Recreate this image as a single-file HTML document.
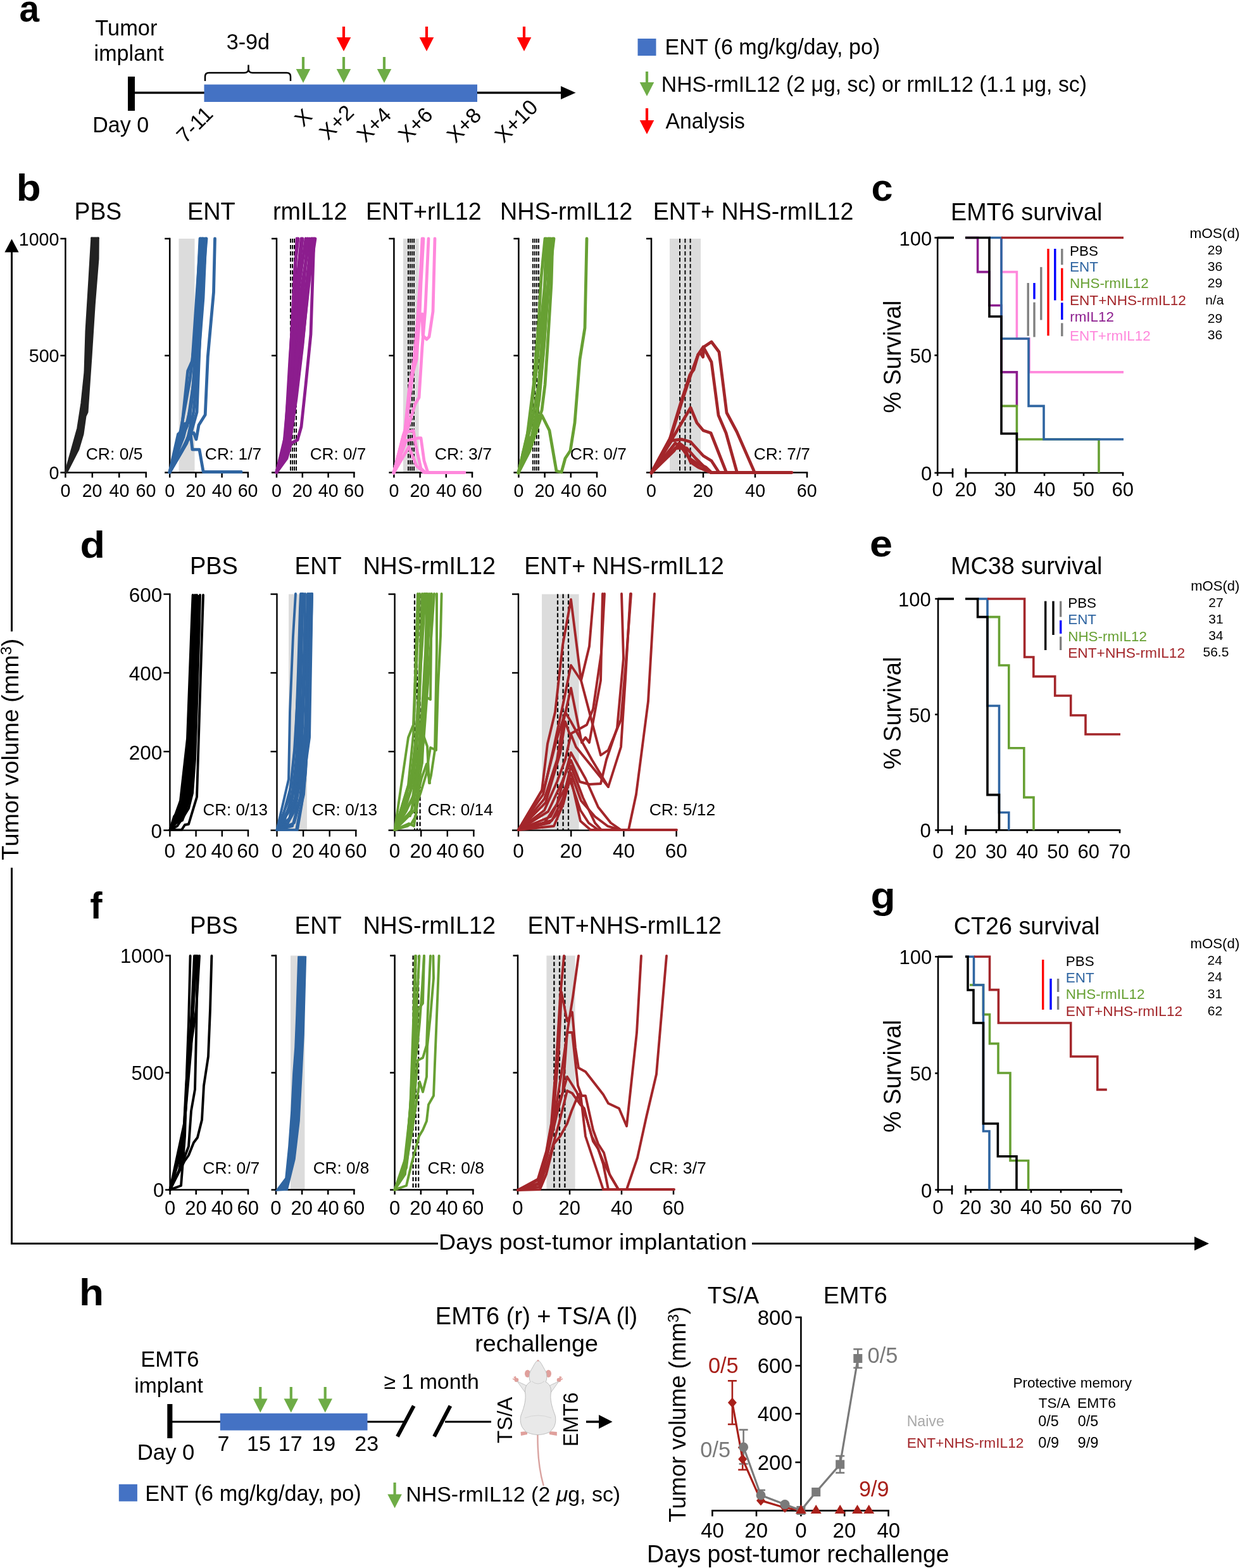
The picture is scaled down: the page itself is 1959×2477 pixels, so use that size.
<!DOCTYPE html>
<html><head><meta charset="utf-8"><title>Figure</title>
<style>html,body{margin:0;padding:0;background:#fff;overflow:hidden;width:1959px;height:2477px}svg{display:block}</style></head>
<body><svg width="1959" height="2477" viewBox="0 0 1959 2477" font-family="'Liberation Sans', Arial, Helvetica, sans-serif">
<rect width="1959" height="2477" fill="#fff"/>
<text x="30.5" y="34.2" font-size="60" textLength="31.58" lengthAdjust="spacingAndGlyphs" font-weight="bold">a</text>
<text x="150.31" y="56.2" font-size="35" textLength="98.1" lengthAdjust="spacingAndGlyphs">Tumor</text>
<text x="148.61" y="96" font-size="35" textLength="110.01" lengthAdjust="spacingAndGlyphs">implant</text>
<text x="357.63" y="77.5" font-size="35" textLength="68.46" lengthAdjust="spacingAndGlyphs">3-9d</text>
<text x="146.28" y="209" font-size="35" textLength="88.81" lengthAdjust="spacingAndGlyphs">Day 0</text>
<line x1="207" y1="146.5" x2="889" y2="146.5" stroke="#000" stroke-width="3.5"/>
<polygon points="886,136 909.5,146.5 886,157" fill="#000"/>
<rect x="202" y="121" width="11" height="54" fill="#000"/>
<rect x="322.5" y="133.5" width="431.5" height="27.5" fill="#4472C4"/>
<path d="M324,128 L324,121 Q324,115 330,115 L386,115 Q392.5,115 392.5,109 L392.5,102.5 M392.5,109 Q392.5,115 399,115 L453,115 Q459,115 459,121 L459,128" fill="none" stroke="#000" stroke-width="2.5"/>
<line x1="479" y1="90" x2="479" y2="110" stroke="#6EAC46" stroke-width="4.2"/>
<polygon points="467.7,109 490.3,109 479,131" fill="#6EAC46"/>
<line x1="543" y1="90" x2="543" y2="110" stroke="#6EAC46" stroke-width="4.2"/>
<polygon points="531.7,109 554.3,109 543,131" fill="#6EAC46"/>
<line x1="607" y1="90" x2="607" y2="110" stroke="#6EAC46" stroke-width="4.2"/>
<polygon points="595.7,109 618.3,109 607,131" fill="#6EAC46"/>
<line x1="543" y1="42" x2="543" y2="60" stroke="#FF0000" stroke-width="4.2"/>
<polygon points="531.7,59 554.3,59 543,81" fill="#FF0000"/>
<line x1="674" y1="42" x2="674" y2="60" stroke="#FF0000" stroke-width="4.2"/>
<polygon points="662.7,59 685.3,59 674,81" fill="#FF0000"/>
<line x1="828" y1="42" x2="828" y2="60" stroke="#FF0000" stroke-width="4.2"/>
<polygon points="816.7,59 839.3,59 828,81" fill="#FF0000"/>
<text x="0" y="0" font-size="33.5" text-anchor="middle" dominant-baseline="central" transform="translate(307.5,196.8) rotate(-45)">7-11</text>
<text x="0" y="0" font-size="33.5" text-anchor="middle" dominant-baseline="central" transform="translate(479,185.6) rotate(-45)">X</text>
<text x="0" y="0" font-size="33.5" text-anchor="middle" dominant-baseline="central" transform="translate(531.6,193.1) rotate(-45)">X+2</text>
<text x="0" y="0" font-size="33.5" text-anchor="middle" dominant-baseline="central" transform="translate(590.7,196.9) rotate(-45)">X+4</text>
<text x="0" y="0" font-size="33.5" text-anchor="middle" dominant-baseline="central" transform="translate(656.2,196.9) rotate(-45)">X+6</text>
<text x="0" y="0" font-size="33.5" text-anchor="middle" dominant-baseline="central" transform="translate(733,197.7) rotate(-45)">X+8</text>
<text x="0" y="0" font-size="33.5" text-anchor="middle" dominant-baseline="central" transform="translate(815.5,191.2) rotate(-45)">X+10</text>
<rect x="1007.5" y="61" width="29" height="27" fill="#4472C4"/>
<text x="1050.57" y="85.8" font-size="34.7" textLength="339.68" lengthAdjust="spacingAndGlyphs">ENT (6 mg/kg/day, po)</text>
<line x1="1022" y1="113" x2="1022" y2="131" stroke="#6EAC46" stroke-width="4.2"/>
<polygon points="1010.7,130 1033.3,130 1022,152" fill="#6EAC46"/>
<text x="1044.79" y="145" font-size="34.7" textLength="672.18" lengthAdjust="spacingAndGlyphs">NHS-rmIL12 (2 μg, sc) or rmIL12 (1.1 μg, sc)</text>
<line x1="1022" y1="171" x2="1022" y2="191" stroke="#FF0000" stroke-width="4.2"/>
<polygon points="1010.7,190 1033.3,190 1022,212" fill="#FF0000"/>
<text x="1051.5" y="203" font-size="34.7" textLength="125.47" lengthAdjust="spacingAndGlyphs">Analysis</text>
<line x1="18.5" y1="396" x2="18.5" y2="997.6" stroke="#000" stroke-width="3"/>
<line x1="18.5" y1="1370.7" x2="18.5" y2="1966" stroke="#000" stroke-width="3"/>
<polygon points="7.4,398.5 18.5,377.4 29.6,398.5" fill="#000"/>
<line x1="17" y1="1964.5" x2="692" y2="1964.5" stroke="#000" stroke-width="3"/>
<line x1="1188" y1="1964.5" x2="1889" y2="1964.5" stroke="#000" stroke-width="3"/>
<polygon points="1887,1953.5 1910,1964.5 1887,1975.5" fill="#000"/>
<text x="693" y="1974.4" font-size="35.5" textLength="487.01" lengthAdjust="spacingAndGlyphs">Days post-tumor implantation</text>
<text x="0" y="0" font-size="37" transform="translate(29.3,1358.7) rotate(-90)" textLength="350" lengthAdjust="spacingAndGlyphs">Tumor volume (mm<tspan font-size="24" dy="-11.5">3</tspan><tspan dy="11.5">)</tspan></text>
<text x="25.75" y="316.5" font-size="60" textLength="38.85" lengthAdjust="spacingAndGlyphs" font-weight="bold">b</text>
<text x="117.62" y="346.6" font-size="38.5" textLength="74.59" lengthAdjust="spacingAndGlyphs">PBS</text>
<text x="295.97" y="346.6" font-size="38.5" textLength="75.79" lengthAdjust="spacingAndGlyphs">ENT</text>
<text x="430.95" y="346.6" font-size="38.5" textLength="117.63" lengthAdjust="spacingAndGlyphs">rmIL12</text>
<text x="578" y="346.6" font-size="38.5" textLength="182.62" lengthAdjust="spacingAndGlyphs">ENT+rIL12</text>
<text x="789.99" y="346.6" font-size="38.5" textLength="209.26" lengthAdjust="spacingAndGlyphs">NHS-rmIL12</text>
<text x="1031.79" y="346.6" font-size="38.5" textLength="316.62" lengthAdjust="spacingAndGlyphs">ENT+ NHS-rmIL12</text>
<line x1="103.4" y1="375.75" x2="103.4" y2="747.75" stroke="#000" stroke-width="2.5"/>
<line x1="95.4" y1="377" x2="103.4" y2="377" stroke="#000" stroke-width="2.5"/>
<line x1="95.4" y1="561.75" x2="103.4" y2="561.75" stroke="#000" stroke-width="2.5"/>
<line x1="95.4" y1="746.5" x2="103.4" y2="746.5" stroke="#000" stroke-width="2.5"/>
<line x1="102.15" y1="746.5" x2="231.95" y2="746.5" stroke="#000" stroke-width="2.5"/>
<line x1="103.4" y1="746.5" x2="103.4" y2="754.5" stroke="#000" stroke-width="2.5"/>
<text x="95.39" y="784.8" font-size="29.8" textLength="15.91" lengthAdjust="spacingAndGlyphs">0</text>
<line x1="145.83" y1="746.5" x2="145.83" y2="754.5" stroke="#000" stroke-width="2.5"/>
<text x="129.67" y="784.8" font-size="29.8" textLength="31.82" lengthAdjust="spacingAndGlyphs">20</text>
<line x1="188.27" y1="746.5" x2="188.27" y2="754.5" stroke="#000" stroke-width="2.5"/>
<text x="172.53" y="784.8" font-size="29.8" textLength="31.82" lengthAdjust="spacingAndGlyphs">40</text>
<line x1="230.7" y1="746.5" x2="230.7" y2="754.5" stroke="#000" stroke-width="2.5"/>
<text x="214.54" y="784.8" font-size="29.8" textLength="31.82" lengthAdjust="spacingAndGlyphs">60</text>
<text x="29.75" y="387.5" font-size="29.8" textLength="63.63" lengthAdjust="spacingAndGlyphs">1000</text>
<text x="45.77" y="572.25" font-size="29.8" textLength="47.73" lengthAdjust="spacingAndGlyphs">500</text>
<text x="77.52" y="757" font-size="29.8" textLength="15.91" lengthAdjust="spacingAndGlyphs">0</text>
<polygon points="103.4,746 122.8,676.6 128.9,637 134,588 136,523 141,441.4 144.8,376 155.3,376 155,408.9 149.2,482 144,563.6 138,651 135,657.3 131,685.8 123.8,710 105.5,746" fill="#222"/>
<polyline points="103.4,746 122.8,676.6 128.9,637 134,588 136,523 141,441.4 144.8,376" fill="none" stroke="#222" stroke-width="3" stroke-linejoin="round" stroke-linecap="round"/>
<polyline points="155.3,376 155,408.9 149.2,482 144,563.6 138,651 135,657.3 131,685.8 123.8,710 105.5,746" fill="none" stroke="#222" stroke-width="3" stroke-linejoin="round" stroke-linecap="round"/>
<polyline points="144.8,376 155.3,376" fill="none" stroke="#222" stroke-width="3" stroke-linejoin="round" stroke-linecap="round"/>
<text x="135.67" y="726" font-size="26" textLength="89.99" lengthAdjust="spacingAndGlyphs">CR: 0/5</text>
<rect x="282.5" y="377" width="25" height="369.5" fill="#DCDCDC"/>
<line x1="268.2" y1="375.75" x2="268.2" y2="747.75" stroke="#000" stroke-width="2.5"/>
<line x1="260.2" y1="377" x2="268.2" y2="377" stroke="#000" stroke-width="2.5"/>
<line x1="260.2" y1="561.75" x2="268.2" y2="561.75" stroke="#000" stroke-width="2.5"/>
<line x1="260.2" y1="746.5" x2="268.2" y2="746.5" stroke="#000" stroke-width="2.5"/>
<line x1="266.95" y1="746.5" x2="393.05" y2="746.5" stroke="#000" stroke-width="2.5"/>
<line x1="268.2" y1="746.5" x2="268.2" y2="754.5" stroke="#000" stroke-width="2.5"/>
<text x="260.19" y="784.8" font-size="29.8" textLength="15.91" lengthAdjust="spacingAndGlyphs">0</text>
<line x1="309.4" y1="746.5" x2="309.4" y2="754.5" stroke="#000" stroke-width="2.5"/>
<text x="293.24" y="784.8" font-size="29.8" textLength="31.82" lengthAdjust="spacingAndGlyphs">20</text>
<line x1="350.6" y1="746.5" x2="350.6" y2="754.5" stroke="#000" stroke-width="2.5"/>
<text x="334.87" y="784.8" font-size="29.8" textLength="31.82" lengthAdjust="spacingAndGlyphs">40</text>
<line x1="391.8" y1="746.5" x2="391.8" y2="754.5" stroke="#000" stroke-width="2.5"/>
<text x="375.64" y="784.8" font-size="29.8" textLength="31.82" lengthAdjust="spacingAndGlyphs">60</text>
<polyline points="268,746 281.5,685.8 286.6,681.7 296.7,586 303.9,569.7 317,377" fill="none" stroke="#2F65A1" stroke-width="4.8" stroke-linejoin="round" stroke-linecap="round"/>
<polyline points="268,746 285.5,679.7 300,600 309,527 316,377" fill="none" stroke="#2F65A1" stroke-width="4.8" stroke-linejoin="round" stroke-linecap="round"/>
<polyline points="268,746 287.6,712 300,690 311,651 322,377" fill="none" stroke="#2F65A1" stroke-width="4.8" stroke-linejoin="round" stroke-linecap="round"/>
<polyline points="268,746 291.6,669.5 298.8,667.5 306,600 313,480 320,377" fill="none" stroke="#2F65A1" stroke-width="4.8" stroke-linejoin="round" stroke-linecap="round"/>
<polyline points="268,746 300.8,685.8 306,683.8 310,694 314,671.5 324.2,655.3 328.3,563.6 337.5,461.8 339.5,377" fill="none" stroke="#2F65A1" stroke-width="4.8" stroke-linejoin="round" stroke-linecap="round"/>
<polyline points="268,746 287.6,712.3 300.8,681.7 303.9,710.2 315,710.2 321.2,745.5 381.2,745.5" fill="none" stroke="#2F65A1" stroke-width="4.8" stroke-linejoin="round" stroke-linecap="round"/>
<polyline points="268,746 283,700 296,672 305,610 312,520 318,420 319,377" fill="none" stroke="#2F65A1" stroke-width="4.8" stroke-linejoin="round" stroke-linecap="round"/>
<polyline points="268,746 290,690 302,640 310,580 318,480 324,400 326,377" fill="none" stroke="#2F65A1" stroke-width="4.8" stroke-linejoin="round" stroke-linecap="round"/>
<polyline points="268,746 295,700 306,650 314,560 321,470 325,377" fill="none" stroke="#2F65A1" stroke-width="4.8" stroke-linejoin="round" stroke-linecap="round"/>
<text x="323.88" y="726" font-size="26" textLength="89.23" lengthAdjust="spacingAndGlyphs">CR: 1/7</text>
<line x1="459" y1="377" x2="459" y2="746.5" stroke="#000" stroke-width="1.9" stroke-dasharray="6.5,3.5"/>
<line x1="462" y1="377" x2="462" y2="746.5" stroke="#000" stroke-width="1.9" stroke-dasharray="6.5,3.5"/>
<line x1="465" y1="377" x2="465" y2="746.5" stroke="#000" stroke-width="1.9" stroke-dasharray="6.5,3.5"/>
<line x1="468" y1="377" x2="468" y2="746.5" stroke="#000" stroke-width="1.9" stroke-dasharray="6.5,3.5"/>
<line x1="437" y1="375.75" x2="437" y2="747.75" stroke="#000" stroke-width="2.5"/>
<line x1="429" y1="377" x2="437" y2="377" stroke="#000" stroke-width="2.5"/>
<line x1="429" y1="561.75" x2="437" y2="561.75" stroke="#000" stroke-width="2.5"/>
<line x1="429" y1="746.5" x2="437" y2="746.5" stroke="#000" stroke-width="2.5"/>
<line x1="435.75" y1="746.5" x2="560.65" y2="746.5" stroke="#000" stroke-width="2.5"/>
<line x1="437" y1="746.5" x2="437" y2="754.5" stroke="#000" stroke-width="2.5"/>
<text x="428.99" y="784.8" font-size="29.8" textLength="15.91" lengthAdjust="spacingAndGlyphs">0</text>
<line x1="477.8" y1="746.5" x2="477.8" y2="754.5" stroke="#000" stroke-width="2.5"/>
<text x="461.64" y="784.8" font-size="29.8" textLength="31.82" lengthAdjust="spacingAndGlyphs">20</text>
<line x1="518.6" y1="746.5" x2="518.6" y2="754.5" stroke="#000" stroke-width="2.5"/>
<text x="502.87" y="784.8" font-size="29.8" textLength="31.82" lengthAdjust="spacingAndGlyphs">40</text>
<line x1="559.4" y1="746.5" x2="559.4" y2="754.5" stroke="#000" stroke-width="2.5"/>
<text x="543.24" y="784.8" font-size="29.8" textLength="31.82" lengthAdjust="spacingAndGlyphs">60</text>
<polyline points="437,746 451,688 458,568 464,480 469,377" fill="none" stroke="#8C1D8E" stroke-width="4.8" stroke-linejoin="round" stroke-linecap="round"/>
<polyline points="437,746 452,690 460,580 467,470 476,377" fill="none" stroke="#8C1D8E" stroke-width="4.8" stroke-linejoin="round" stroke-linecap="round"/>
<polyline points="437,746 453,695 462,590 470,470 483,377" fill="none" stroke="#8C1D8E" stroke-width="4.8" stroke-linejoin="round" stroke-linecap="round"/>
<polyline points="437,746 454,700 464,600 474,470 489,377" fill="none" stroke="#8C1D8E" stroke-width="4.8" stroke-linejoin="round" stroke-linecap="round"/>
<polyline points="437,746 453,724 460,700 470,695 476,674 483,608 491,528 496,377" fill="none" stroke="#8C1D8E" stroke-width="4.8" stroke-linejoin="round" stroke-linecap="round"/>
<polyline points="437,746 450,700 457,640 463,560 472,430 478,377" fill="none" stroke="#8C1D8E" stroke-width="4.8" stroke-linejoin="round" stroke-linecap="round"/>
<polyline points="437,746 455,710 466,640 478,540 490,430 498,377" fill="none" stroke="#8C1D8E" stroke-width="4.8" stroke-linejoin="round" stroke-linecap="round"/>
<polyline points="437,746 448,710 456,620 461,520 466,420 471,377" fill="none" stroke="#8C1D8E" stroke-width="4.8" stroke-linejoin="round" stroke-linecap="round"/>
<polyline points="437,746 446,715 453,680 458,640 462,600" fill="none" stroke="#8C1D8E" stroke-width="4.8" stroke-linejoin="round" stroke-linecap="round"/>
<polyline points="437,746 455,705 465,620 474,540 483,460 492,377" fill="none" stroke="#8C1D8E" stroke-width="4.8" stroke-linejoin="round" stroke-linecap="round"/>
<polyline points="437,746 456,712 468,630 478,545 486,460 494,377" fill="none" stroke="#8C1D8E" stroke-width="4.8" stroke-linejoin="round" stroke-linecap="round"/>
<polyline points="437,746 454,705 464,625 471,545 479,460 486,377" fill="none" stroke="#8C1D8E" stroke-width="4.8" stroke-linejoin="round" stroke-linecap="round"/>
<text x="489.69" y="726" font-size="26" textLength="88.61" lengthAdjust="spacingAndGlyphs">CR: 0/7</text>
<rect x="637" y="377" width="24.6" height="369.5" fill="#DCDCDC"/>
<line x1="645" y1="377" x2="645" y2="746.5" stroke="#000" stroke-width="1.9" stroke-dasharray="6.5,3.5"/>
<line x1="648" y1="377" x2="648" y2="746.5" stroke="#000" stroke-width="1.9" stroke-dasharray="6.5,3.5"/>
<line x1="651" y1="377" x2="651" y2="746.5" stroke="#000" stroke-width="1.9" stroke-dasharray="6.5,3.5"/>
<line x1="654" y1="377" x2="654" y2="746.5" stroke="#000" stroke-width="1.9" stroke-dasharray="6.5,3.5"/>
<line x1="622.4" y1="375.75" x2="622.4" y2="747.75" stroke="#000" stroke-width="2.5"/>
<line x1="614.4" y1="377" x2="622.4" y2="377" stroke="#000" stroke-width="2.5"/>
<line x1="614.4" y1="561.75" x2="622.4" y2="561.75" stroke="#000" stroke-width="2.5"/>
<line x1="614.4" y1="746.5" x2="622.4" y2="746.5" stroke="#000" stroke-width="2.5"/>
<line x1="621.15" y1="746.5" x2="747.25" y2="746.5" stroke="#000" stroke-width="2.5"/>
<line x1="622.4" y1="746.5" x2="622.4" y2="754.5" stroke="#000" stroke-width="2.5"/>
<text x="614.39" y="784.8" font-size="29.8" textLength="15.91" lengthAdjust="spacingAndGlyphs">0</text>
<line x1="663.6" y1="746.5" x2="663.6" y2="754.5" stroke="#000" stroke-width="2.5"/>
<text x="647.44" y="784.8" font-size="29.8" textLength="31.82" lengthAdjust="spacingAndGlyphs">20</text>
<line x1="704.8" y1="746.5" x2="704.8" y2="754.5" stroke="#000" stroke-width="2.5"/>
<text x="689.07" y="784.8" font-size="29.8" textLength="31.82" lengthAdjust="spacingAndGlyphs">40</text>
<line x1="746" y1="746.5" x2="746" y2="754.5" stroke="#000" stroke-width="2.5"/>
<text x="729.84" y="784.8" font-size="29.8" textLength="31.82" lengthAdjust="spacingAndGlyphs">60</text>
<polyline points="622,747 637,688 643,672 648,604 658,568 663,498 665,448 669,377" fill="none" stroke="#FF88DC" stroke-width="4.8" stroke-linejoin="round" stroke-linecap="round"/>
<polyline points="622,747 640,680 650,608 662,508 667,496 668,530 674,536 678,532 684,492 687,377" fill="none" stroke="#FF88DC" stroke-width="4.8" stroke-linejoin="round" stroke-linecap="round"/>
<polyline points="622,747 640,690 656,638 662,628 667,548 672,488 677,377" fill="none" stroke="#FF88DC" stroke-width="4.8" stroke-linejoin="round" stroke-linecap="round"/>
<polyline points="622,747 638,686 645,682 653,680 657,704 665,740 672,746.5 734,746.5" fill="none" stroke="#FF88DC" stroke-width="4.8" stroke-linejoin="round" stroke-linecap="round"/>
<polyline points="622,747 646,706 658,736 670,746.5" fill="none" stroke="#FF88DC" stroke-width="4.8" stroke-linejoin="round" stroke-linecap="round"/>
<polyline points="622,747 642,696 661,692 665,692 670,728 676,746.5" fill="none" stroke="#FF88DC" stroke-width="4.8" stroke-linejoin="round" stroke-linecap="round"/>
<polyline points="622,747 640,678 646,618 654,568 660,500 664,440 667,377" fill="none" stroke="#FF88DC" stroke-width="4.8" stroke-linejoin="round" stroke-linecap="round"/>
<text x="686.67" y="726" font-size="26" textLength="90.37" lengthAdjust="spacingAndGlyphs">CR: 3/7</text>
<line x1="842" y1="377" x2="842" y2="746.5" stroke="#000" stroke-width="1.9" stroke-dasharray="6.5,3.5"/>
<line x1="845" y1="377" x2="845" y2="746.5" stroke="#000" stroke-width="1.9" stroke-dasharray="6.5,3.5"/>
<line x1="848" y1="377" x2="848" y2="746.5" stroke="#000" stroke-width="1.9" stroke-dasharray="6.5,3.5"/>
<line x1="851" y1="377" x2="851" y2="746.5" stroke="#000" stroke-width="1.9" stroke-dasharray="6.5,3.5"/>
<line x1="819.4" y1="375.75" x2="819.4" y2="747.75" stroke="#000" stroke-width="2.5"/>
<line x1="811.4" y1="377" x2="819.4" y2="377" stroke="#000" stroke-width="2.5"/>
<line x1="811.4" y1="561.75" x2="819.4" y2="561.75" stroke="#000" stroke-width="2.5"/>
<line x1="811.4" y1="746.5" x2="819.4" y2="746.5" stroke="#000" stroke-width="2.5"/>
<line x1="818.15" y1="746.5" x2="944.25" y2="746.5" stroke="#000" stroke-width="2.5"/>
<line x1="819.4" y1="746.5" x2="819.4" y2="754.5" stroke="#000" stroke-width="2.5"/>
<text x="811.39" y="784.8" font-size="29.8" textLength="15.91" lengthAdjust="spacingAndGlyphs">0</text>
<line x1="860.6" y1="746.5" x2="860.6" y2="754.5" stroke="#000" stroke-width="2.5"/>
<text x="844.44" y="784.8" font-size="29.8" textLength="31.82" lengthAdjust="spacingAndGlyphs">20</text>
<line x1="901.8" y1="746.5" x2="901.8" y2="754.5" stroke="#000" stroke-width="2.5"/>
<text x="886.07" y="784.8" font-size="29.8" textLength="31.82" lengthAdjust="spacingAndGlyphs">40</text>
<line x1="943" y1="746.5" x2="943" y2="754.5" stroke="#000" stroke-width="2.5"/>
<text x="926.84" y="784.8" font-size="29.8" textLength="31.82" lengthAdjust="spacingAndGlyphs">60</text>
<polyline points="819,747 837,712 845,688 851,670 856,656 862,668 868,680 879,744 887,746 893,724 901,712 908,668 916,568 924,518 927,377" fill="none" stroke="#67A033" stroke-width="4.8" stroke-linejoin="round" stroke-linecap="round"/>
<polyline points="819,747 833,688 843,608 851,508 855,438 861,377" fill="none" stroke="#67A033" stroke-width="4.8" stroke-linejoin="round" stroke-linecap="round"/>
<polyline points="819,747 840,668 851,608 859,508 875,377" fill="none" stroke="#67A033" stroke-width="4.8" stroke-linejoin="round" stroke-linecap="round"/>
<polyline points="819,747 845,680 856,648 861,608 865,548 871,448 873,377" fill="none" stroke="#67A033" stroke-width="4.8" stroke-linejoin="round" stroke-linecap="round"/>
<polyline points="819,747 837,692 847,684 854,578 859,498 863,377" fill="none" stroke="#67A033" stroke-width="4.8" stroke-linejoin="round" stroke-linecap="round"/>
<polyline points="819,747 835,678 847,588 853,528 868,377" fill="none" stroke="#67A033" stroke-width="4.8" stroke-linejoin="round" stroke-linecap="round"/>
<polyline points="819,747 838,700 850,640 858,560 866,460 870,377" fill="none" stroke="#67A033" stroke-width="4.8" stroke-linejoin="round" stroke-linecap="round"/>
<polyline points="819,747 842,690 852,630 860,540 867,430 866,377" fill="none" stroke="#67A033" stroke-width="4.8" stroke-linejoin="round" stroke-linecap="round"/>
<text x="900.68" y="726" font-size="26" textLength="89.34" lengthAdjust="spacingAndGlyphs">CR: 0/7</text>
<rect x="1058" y="377" width="49" height="369.5" fill="#DCDCDC"/>
<line x1="1074" y1="377" x2="1074" y2="746.5" stroke="#000" stroke-width="1.9" stroke-dasharray="6.5,3.5"/>
<line x1="1082.4" y1="377" x2="1082.4" y2="746.5" stroke="#000" stroke-width="1.9" stroke-dasharray="6.5,3.5"/>
<line x1="1090.6" y1="377" x2="1090.6" y2="746.5" stroke="#000" stroke-width="1.9" stroke-dasharray="6.5,3.5"/>
<line x1="1029" y1="375.75" x2="1029" y2="747.75" stroke="#000" stroke-width="2.5"/>
<line x1="1021" y1="377" x2="1029" y2="377" stroke="#000" stroke-width="2.5"/>
<line x1="1021" y1="561.75" x2="1029" y2="561.75" stroke="#000" stroke-width="2.5"/>
<line x1="1021" y1="746.5" x2="1029" y2="746.5" stroke="#000" stroke-width="2.5"/>
<line x1="1027.75" y1="746.5" x2="1276.25" y2="746.5" stroke="#000" stroke-width="2.5"/>
<line x1="1029" y1="746.5" x2="1029" y2="754.5" stroke="#000" stroke-width="2.5"/>
<text x="1020.99" y="784.8" font-size="29.8" textLength="15.91" lengthAdjust="spacingAndGlyphs">0</text>
<line x1="1111" y1="746.5" x2="1111" y2="754.5" stroke="#000" stroke-width="2.5"/>
<text x="1094.84" y="784.8" font-size="29.8" textLength="31.82" lengthAdjust="spacingAndGlyphs">20</text>
<line x1="1193" y1="746.5" x2="1193" y2="754.5" stroke="#000" stroke-width="2.5"/>
<text x="1177.27" y="784.8" font-size="29.8" textLength="31.82" lengthAdjust="spacingAndGlyphs">40</text>
<line x1="1275" y1="746.5" x2="1275" y2="754.5" stroke="#000" stroke-width="2.5"/>
<text x="1258.84" y="784.8" font-size="29.8" textLength="31.82" lengthAdjust="spacingAndGlyphs">60</text>
<polyline points="1029,747 1058,694 1075,638 1090,592 1096,584 1103,560 1107,558 1110.6,564 1112,548 1124,540 1136,556 1148,652 1164,682 1192,746" fill="none" stroke="#A3262A" stroke-width="4.8" stroke-linejoin="round" stroke-linecap="round"/>
<polyline points="1029,747 1060,690 1078,632 1092,590 1103,560 1111,548 1124,572 1135,656 1147,684 1164,745" fill="none" stroke="#A3262A" stroke-width="4.8" stroke-linejoin="round" stroke-linecap="round"/>
<polyline points="1029,747 1065,688 1091,644 1101,668 1111,680 1123,684 1147,745" fill="none" stroke="#A3262A" stroke-width="4.8" stroke-linejoin="round" stroke-linecap="round"/>
<polyline points="1029,747 1061,696 1077,694 1091,698 1111,720 1124,728 1135,745" fill="none" stroke="#A3262A" stroke-width="4.8" stroke-linejoin="round" stroke-linecap="round"/>
<polyline points="1029,747 1065,712 1073,700 1081,706 1091,730 1103,738 1123,746.5" fill="none" stroke="#A3262A" stroke-width="4.8" stroke-linejoin="round" stroke-linecap="round"/>
<polyline points="1029,747 1067,700 1079,710 1089,724 1101,732 1115,738 1124,746.5" fill="none" stroke="#A3262A" stroke-width="4.8" stroke-linejoin="round" stroke-linecap="round"/>
<polyline points="1029,747 1067,708 1085,708 1099,724 1117,742 1123,746.5 1251,746.5" fill="none" stroke="#A3262A" stroke-width="4.8" stroke-linejoin="round" stroke-linecap="round"/>
<text x="1190.69" y="726" font-size="26" textLength="89.13" lengthAdjust="spacingAndGlyphs">CR: 7/7</text>
<text x="126.41" y="880.7" font-size="60" textLength="39.52" lengthAdjust="spacingAndGlyphs" font-weight="bold">d</text>
<text x="299.96" y="906.8" font-size="38.5" textLength="75.98" lengthAdjust="spacingAndGlyphs">PBS</text>
<text x="465.43" y="906.8" font-size="38.5" textLength="74.32" lengthAdjust="spacingAndGlyphs">ENT</text>
<text x="573.38" y="906.8" font-size="38.5" textLength="209.67" lengthAdjust="spacingAndGlyphs">NHS-rmIL12</text>
<text x="828.3" y="906.8" font-size="38.5" textLength="315.51" lengthAdjust="spacingAndGlyphs">ENT+ NHS-rmIL12</text>
<line x1="268.4" y1="937.4" x2="268.4" y2="1312.8" stroke="#000" stroke-width="2.4"/>
<line x1="258.4" y1="938.6" x2="268.4" y2="938.6" stroke="#000" stroke-width="2.4"/>
<line x1="258.4" y1="1062.93" x2="268.4" y2="1062.93" stroke="#000" stroke-width="2.4"/>
<line x1="258.4" y1="1187.27" x2="268.4" y2="1187.27" stroke="#000" stroke-width="2.4"/>
<line x1="258.4" y1="1311.6" x2="268.4" y2="1311.6" stroke="#000" stroke-width="2.4"/>
<line x1="267.2" y1="1311.6" x2="393.2" y2="1311.6" stroke="#000" stroke-width="2.4"/>
<line x1="268.4" y1="1311.6" x2="268.4" y2="1321.6" stroke="#000" stroke-width="2.4"/>
<text x="259.58" y="1355" font-size="31.5">0</text>
<line x1="309.6" y1="1311.6" x2="309.6" y2="1321.6" stroke="#000" stroke-width="2.4"/>
<text x="291.8" y="1355" font-size="31.5">20</text>
<line x1="350.8" y1="1311.6" x2="350.8" y2="1321.6" stroke="#000" stroke-width="2.4"/>
<text x="333.48" y="1355" font-size="31.5">40</text>
<line x1="392" y1="1311.6" x2="392" y2="1321.6" stroke="#000" stroke-width="2.4"/>
<text x="374.2" y="1355" font-size="31.5">60</text>
<text x="203.65" y="951.1" font-size="31.5">600</text>
<text x="203.65" y="1075.43" font-size="31.5">400</text>
<text x="203.65" y="1199.77" font-size="31.5">200</text>
<text x="238.62" y="1324.1" font-size="31.5">0</text>
<polygon points="268.5,1311 285,1265 296,1167 303,979 304.6,940 316,940 315,985 310,1145 308,1199 304,1253 300,1268 293,1283 284,1297 275,1306 270,1311" fill="#000"/>
<polyline points="268.5,1311 285,1265 296,1167 303,979 304.6,940" fill="none" stroke="#000" stroke-width="3.9" stroke-linejoin="round" stroke-linecap="round"/>
<polyline points="316,940 315,985 310,1145 308,1199 304,1253 298,1277 290,1290 280,1305 268.5,1311" fill="none" stroke="#000" stroke-width="3.9" stroke-linejoin="round" stroke-linecap="round"/>
<polyline points="321,940 317,1065 311,1259 298,1302 292,1303 287,1311 268.5,1311" fill="none" stroke="#000" stroke-width="3.9" stroke-linejoin="round" stroke-linecap="round"/>
<polyline points="268.5,1311 278,1300 288,1296 294,1280 300,1240 305,1150 309,1000 311,940" fill="none" stroke="#000" stroke-width="3.9" stroke-linejoin="round" stroke-linecap="round"/>
<polyline points="268.5,1311 275,1290 284,1278 292,1250 298,1200 302,1100 306,1000 308,940" fill="none" stroke="#000" stroke-width="3.9" stroke-linejoin="round" stroke-linecap="round"/>
<text x="320.4" y="1288" font-size="26">CR: 0/13</text>
<rect x="456" y="938.6" width="29" height="373" fill="#DCDCDC"/>
<line x1="437.5" y1="937.4" x2="437.5" y2="1312.8" stroke="#000" stroke-width="2.4"/>
<line x1="427.5" y1="938.6" x2="437.5" y2="938.6" stroke="#000" stroke-width="2.4"/>
<line x1="427.5" y1="1062.93" x2="437.5" y2="1062.93" stroke="#000" stroke-width="2.4"/>
<line x1="427.5" y1="1187.27" x2="437.5" y2="1187.27" stroke="#000" stroke-width="2.4"/>
<line x1="427.5" y1="1311.6" x2="437.5" y2="1311.6" stroke="#000" stroke-width="2.4"/>
<line x1="436.3" y1="1311.6" x2="563.5" y2="1311.6" stroke="#000" stroke-width="2.4"/>
<line x1="437.5" y1="1311.6" x2="437.5" y2="1321.6" stroke="#000" stroke-width="2.4"/>
<text x="428.68" y="1355" font-size="31.5">0</text>
<line x1="479.1" y1="1311.6" x2="479.1" y2="1321.6" stroke="#000" stroke-width="2.4"/>
<text x="461.3" y="1355" font-size="31.5">20</text>
<line x1="520.7" y1="1311.6" x2="520.7" y2="1321.6" stroke="#000" stroke-width="2.4"/>
<text x="503.37" y="1355" font-size="31.5">40</text>
<line x1="562.3" y1="1311.6" x2="562.3" y2="1321.6" stroke="#000" stroke-width="2.4"/>
<text x="544.5" y="1355" font-size="31.5">60</text>
<polyline points="437.5,1311 456,1231 458,1125 463,1005 467,938" fill="none" stroke="#2F65A1" stroke-width="3.9" stroke-linejoin="round" stroke-linecap="round"/>
<polyline points="437.5,1311 457,1261 465,1185 471,1085 477,938" fill="none" stroke="#2F65A1" stroke-width="3.9" stroke-linejoin="round" stroke-linecap="round"/>
<polyline points="493,938 489,1165 484,1201 480,1255 473,1285 468,1311 461,1311" fill="none" stroke="#2F65A1" stroke-width="3.9" stroke-linejoin="round" stroke-linecap="round"/>
<polyline points="437.5,1311 460,1290 470,1250 476,1200 480,1100 484,1000 486,938" fill="none" stroke="#2F65A1" stroke-width="3.9" stroke-linejoin="round" stroke-linecap="round"/>
<polyline points="437.5,1311 455,1300 466,1260 473,1200 478,1100 481,1000 482,938" fill="none" stroke="#2F65A1" stroke-width="3.9" stroke-linejoin="round" stroke-linecap="round"/>
<polyline points="437.5,1311 462,1305 474,1260 481,1200 486,1100 489,1000 490,938" fill="none" stroke="#2F65A1" stroke-width="3.9" stroke-linejoin="round" stroke-linecap="round"/>
<polyline points="437.5,1311 450,1295 462,1255 470,1180 474,1080 477,1000 479,938" fill="none" stroke="#2F65A1" stroke-width="3.9" stroke-linejoin="round" stroke-linecap="round"/>
<polyline points="437.5,1311 465,1300 478,1250 485,1180 488,1060 492,938" fill="none" stroke="#2F65A1" stroke-width="3.9" stroke-linejoin="round" stroke-linecap="round"/>
<polyline points="437.5,1311 458,1280 468,1230 473,1160 476,1050 478,938" fill="none" stroke="#2F65A1" stroke-width="3.9" stroke-linejoin="round" stroke-linecap="round"/>
<polyline points="437.5,1311 445,1300 459,1270 468,1210 472,1120 475,1030 476,938" fill="none" stroke="#2F65A1" stroke-width="3.9" stroke-linejoin="round" stroke-linecap="round"/>
<polyline points="437.5,1311 470,1311 477,1270 483,1220 487,1150 490,1050 493,938" fill="none" stroke="#2F65A1" stroke-width="3.9" stroke-linejoin="round" stroke-linecap="round"/>
<polyline points="437.5,1311 452,1305 466,1280 475,1230 482,1150 485,1050 488,938" fill="none" stroke="#2F65A1" stroke-width="3.9" stroke-linejoin="round" stroke-linecap="round"/>
<polyline points="437.5,1311 448,1285 460,1240 467,1170 471,1060 474,960 475,938" fill="none" stroke="#2F65A1" stroke-width="3.9" stroke-linejoin="round" stroke-linecap="round"/>
<text x="492.69" y="1288" font-size="26" textLength="103.52" lengthAdjust="spacingAndGlyphs">CR: 0/13</text>
<line x1="655" y1="938.6" x2="655" y2="1311.6" stroke="#000" stroke-width="2.2" stroke-dasharray="6.5,3.5"/>
<line x1="659" y1="938.6" x2="659" y2="1311.6" stroke="#000" stroke-width="2.2" stroke-dasharray="6.5,3.5"/>
<line x1="663.6" y1="938.6" x2="663.6" y2="1311.6" stroke="#000" stroke-width="2.2" stroke-dasharray="6.5,3.5"/>
<line x1="623.6" y1="937.4" x2="623.6" y2="1312.8" stroke="#000" stroke-width="2.4"/>
<line x1="613.6" y1="938.6" x2="623.6" y2="938.6" stroke="#000" stroke-width="2.4"/>
<line x1="613.6" y1="1062.93" x2="623.6" y2="1062.93" stroke="#000" stroke-width="2.4"/>
<line x1="613.6" y1="1187.27" x2="623.6" y2="1187.27" stroke="#000" stroke-width="2.4"/>
<line x1="613.6" y1="1311.6" x2="623.6" y2="1311.6" stroke="#000" stroke-width="2.4"/>
<line x1="622.4" y1="1311.6" x2="749.6" y2="1311.6" stroke="#000" stroke-width="2.4"/>
<line x1="623.6" y1="1311.6" x2="623.6" y2="1321.6" stroke="#000" stroke-width="2.4"/>
<text x="614.78" y="1355" font-size="31.5">0</text>
<line x1="665.2" y1="1311.6" x2="665.2" y2="1321.6" stroke="#000" stroke-width="2.4"/>
<text x="647.4" y="1355" font-size="31.5">20</text>
<line x1="706.8" y1="1311.6" x2="706.8" y2="1321.6" stroke="#000" stroke-width="2.4"/>
<text x="689.47" y="1355" font-size="31.5">40</text>
<line x1="748.4" y1="1311.6" x2="748.4" y2="1321.6" stroke="#000" stroke-width="2.4"/>
<text x="730.6" y="1355" font-size="31.5">60</text>
<polyline points="623.6,1311 645,1165 653,1145 656,1065 660,938" fill="none" stroke="#67A033" stroke-width="3.9" stroke-linejoin="round" stroke-linecap="round"/>
<polyline points="623.6,1311 640,1265 650,1225 657,1165 662,1105 666,1025 670,938" fill="none" stroke="#67A033" stroke-width="3.9" stroke-linejoin="round" stroke-linecap="round"/>
<polyline points="623.6,1311 642,1281 658,1245 664,1185 670,1105 674,1025 678,938" fill="none" stroke="#67A033" stroke-width="3.9" stroke-linejoin="round" stroke-linecap="round"/>
<polyline points="623.6,1311 646,1301 654,1305 660,1265 665,1251 674,1221 676,1205 680,1181 689,1185 692,1085 696,1005 697.6,938" fill="none" stroke="#67A033" stroke-width="3.9" stroke-linejoin="round" stroke-linecap="round"/>
<polyline points="623.6,1311 650,1225 659,1195 668,1159 675,1179 678,1237 681,1225 687,1185 690,1025 690,938" fill="none" stroke="#67A033" stroke-width="3.9" stroke-linejoin="round" stroke-linecap="round"/>
<polyline points="623.6,1311 648,1269 659,1245 667,1205 672,1105 677,1005 681,938" fill="none" stroke="#67A033" stroke-width="3.9" stroke-linejoin="round" stroke-linecap="round"/>
<polyline points="623.6,1311 642,1289 648,1289 654,1265 662,1205 669,1099 680,1105 682,938" fill="none" stroke="#67A033" stroke-width="3.9" stroke-linejoin="round" stroke-linecap="round"/>
<polyline points="623.6,1311 644,1305 650,1301 657,1289 660,1255 666,1229 674,1207 679,1237" fill="none" stroke="#67A033" stroke-width="3.9" stroke-linejoin="round" stroke-linecap="round"/>
<polyline points="623.6,1311 645,1240 653,1160 658,1050 663,938" fill="none" stroke="#67A033" stroke-width="3.9" stroke-linejoin="round" stroke-linecap="round"/>
<polyline points="623.6,1311 648,1250 656,1180 662,1080 667,938" fill="none" stroke="#67A033" stroke-width="3.9" stroke-linejoin="round" stroke-linecap="round"/>
<polyline points="623.6,1311 652,1260 660,1200 667,1120 672,1030 675,938" fill="none" stroke="#67A033" stroke-width="3.9" stroke-linejoin="round" stroke-linecap="round"/>
<polyline points="623.6,1311 636,1290 652,1240 661,1150 665,1050 672,938" fill="none" stroke="#67A033" stroke-width="3.9" stroke-linejoin="round" stroke-linecap="round"/>
<polyline points="623.6,1311 655,1280 663,1230 670,1160 676,1080 686,938" fill="none" stroke="#67A033" stroke-width="3.9" stroke-linejoin="round" stroke-linecap="round"/>
<polyline points="623.6,1311 650,1280 660,1220 668,1150 673,1060 674,938" fill="none" stroke="#67A033" stroke-width="3.9" stroke-linejoin="round" stroke-linecap="round"/>
<text x="675.49" y="1288" font-size="26" textLength="103.19" lengthAdjust="spacingAndGlyphs">CR: 0/14</text>
<rect x="856" y="938.6" width="58.6" height="373" fill="#DCDCDC"/>
<line x1="881" y1="938.6" x2="881" y2="1311.6" stroke="#000" stroke-width="2.2" stroke-dasharray="6.5,3.5"/>
<line x1="889.6" y1="938.6" x2="889.6" y2="1311.6" stroke="#000" stroke-width="2.2" stroke-dasharray="6.5,3.5"/>
<line x1="898" y1="938.6" x2="898" y2="1311.6" stroke="#000" stroke-width="2.2" stroke-dasharray="6.5,3.5"/>
<line x1="819" y1="937.4" x2="819" y2="1312.8" stroke="#000" stroke-width="2.4"/>
<line x1="809" y1="938.6" x2="819" y2="938.6" stroke="#000" stroke-width="2.4"/>
<line x1="809" y1="1062.93" x2="819" y2="1062.93" stroke="#000" stroke-width="2.4"/>
<line x1="809" y1="1187.27" x2="819" y2="1187.27" stroke="#000" stroke-width="2.4"/>
<line x1="809" y1="1311.6" x2="819" y2="1311.6" stroke="#000" stroke-width="2.4"/>
<line x1="817.8" y1="1311.6" x2="1069.8" y2="1311.6" stroke="#000" stroke-width="2.4"/>
<line x1="819" y1="1311.6" x2="819" y2="1321.6" stroke="#000" stroke-width="2.4"/>
<text x="810.18" y="1355" font-size="31.5">0</text>
<line x1="902.2" y1="1311.6" x2="902.2" y2="1321.6" stroke="#000" stroke-width="2.4"/>
<text x="884.4" y="1355" font-size="31.5">20</text>
<line x1="985.4" y1="1311.6" x2="985.4" y2="1321.6" stroke="#000" stroke-width="2.4"/>
<text x="968.07" y="1355" font-size="31.5">40</text>
<line x1="1068.6" y1="1311.6" x2="1068.6" y2="1321.6" stroke="#000" stroke-width="2.4"/>
<text x="1050.8" y="1355" font-size="31.5">60</text>
<polyline points="819,1311 856,1249 865,1175 877,1125 889,1019 902,947 918,1075 931,1021 938,938" fill="none" stroke="#A3262A" stroke-width="3.9" stroke-linejoin="round" stroke-linecap="round"/>
<polyline points="819,1311 858,1255 875,1180 890,1110 902,1051 918,1075 949,1193 961,1185 981,1137 989,1045 997,938" fill="none" stroke="#A3262A" stroke-width="3.9" stroke-linejoin="round" stroke-linecap="round"/>
<polyline points="819,1311 860,1262 880,1200 890,1140 902,1087 919,1173 925,1165 931,1173 949,1075 952,938" fill="none" stroke="#A3262A" stroke-width="3.9" stroke-linejoin="round" stroke-linecap="round"/>
<polyline points="819,1311 862,1268 885,1190 893,1140 900,1160 927,1145 937,1120 950,1031 955,938" fill="none" stroke="#A3262A" stroke-width="3.9" stroke-linejoin="round" stroke-linecap="round"/>
<polyline points="819,1311 860,1280 880,1235 893,1200 902,1160 910,1180 961,1243 981,1180 988,1073 996,938" fill="none" stroke="#A3262A" stroke-width="3.9" stroke-linejoin="round" stroke-linecap="round"/>
<polyline points="819,1311 866,1282 888,1235 902,1201 916,1235 931,1239 949,1238 958,1200 975,1150 985,1040 982,938" fill="none" stroke="#A3262A" stroke-width="3.9" stroke-linejoin="round" stroke-linecap="round"/>
<polyline points="819,1311 870,1290 895,1240 902,1221 918,1265 940,1290 960,1305 981,1311" fill="none" stroke="#A3262A" stroke-width="3.9" stroke-linejoin="round" stroke-linecap="round"/>
<polyline points="819,1311 872,1296 892,1256 902,1230 917,1297 933,1311" fill="none" stroke="#A3262A" stroke-width="3.9" stroke-linejoin="round" stroke-linecap="round"/>
<polyline points="819,1311 860,1300 880,1270 902,1189 925,1230 945,1275 965,1300 981,1311" fill="none" stroke="#A3262A" stroke-width="3.9" stroke-linejoin="round" stroke-linecap="round"/>
<polyline points="819,1311 868,1300 885,1280 902,1210 921,1260 940,1300 950,1311" fill="none" stroke="#A3262A" stroke-width="3.9" stroke-linejoin="round" stroke-linecap="round"/>
<polyline points="819,1311 875,1305 890,1270 900,1230 917,1280 930,1300 945,1311" fill="none" stroke="#A3262A" stroke-width="3.9" stroke-linejoin="round" stroke-linecap="round"/>
<polyline points="819,1311 861,1240 879,1170 893,1125 902,1140 935,1200 961,1243" fill="none" stroke="#A3262A" stroke-width="3.9" stroke-linejoin="round" stroke-linecap="round"/>
<polyline points="933,1311 993,1311 1005,1255 1024,1108 1034,938" fill="none" stroke="#A3262A" stroke-width="3.9" stroke-linejoin="round" stroke-linecap="round"/>
<polyline points="993,1311 1069,1311" fill="none" stroke="#A3262A" stroke-width="3.9" stroke-linejoin="round" stroke-linecap="round"/>
<text x="1025.68" y="1288" font-size="26" textLength="104.55" lengthAdjust="spacingAndGlyphs">CR: 5/12</text>
<text x="142.24" y="1450.7" font-size="60" textLength="19.35" lengthAdjust="spacingAndGlyphs" font-weight="bold">f</text>
<text x="299.96" y="1475" font-size="38.5" textLength="75.98" lengthAdjust="spacingAndGlyphs">PBS</text>
<text x="465.43" y="1475" font-size="38.5" textLength="74.32" lengthAdjust="spacingAndGlyphs">ENT</text>
<text x="573.38" y="1475" font-size="38.5" textLength="209.67" lengthAdjust="spacingAndGlyphs">NHS-rmIL12</text>
<text x="833.59" y="1475" font-size="38.5" textLength="306.31" lengthAdjust="spacingAndGlyphs">ENT+NHS-rmIL12</text>
<line x1="268.6" y1="1508.35" x2="268.6" y2="1880.85" stroke="#000" stroke-width="2.5"/>
<line x1="261.1" y1="1509.6" x2="268.6" y2="1509.6" stroke="#000" stroke-width="2.5"/>
<line x1="261.1" y1="1694.6" x2="268.6" y2="1694.6" stroke="#000" stroke-width="2.5"/>
<line x1="261.1" y1="1879.6" x2="268.6" y2="1879.6" stroke="#000" stroke-width="2.5"/>
<line x1="267.35" y1="1879.6" x2="393.25" y2="1879.6" stroke="#000" stroke-width="2.5"/>
<line x1="268.6" y1="1879.6" x2="268.6" y2="1887.1" stroke="#000" stroke-width="2.5"/>
<text x="259.92" y="1919" font-size="31">0</text>
<line x1="309.73" y1="1879.6" x2="309.73" y2="1887.1" stroke="#000" stroke-width="2.5"/>
<text x="292.22" y="1919" font-size="31">20</text>
<line x1="350.87" y1="1879.6" x2="350.87" y2="1887.1" stroke="#000" stroke-width="2.5"/>
<text x="333.82" y="1919" font-size="31">40</text>
<line x1="392" y1="1879.6" x2="392" y2="1887.1" stroke="#000" stroke-width="2.5"/>
<text x="374.49" y="1919" font-size="31">60</text>
<text x="190.11" y="1521.1" font-size="31">1000</text>
<text x="207.47" y="1706.1" font-size="31">500</text>
<text x="241.88" y="1891.1" font-size="31">0</text>
<polyline points="268.6,1879.4 286,1873 292,1795 295,1695 298,1615 300.6,1510" fill="none" stroke="#000" stroke-width="3.9" stroke-linejoin="round" stroke-linecap="round"/>
<polyline points="268.6,1879.4 283,1849 290,1805 297,1695 303,1595 307,1510" fill="none" stroke="#000" stroke-width="3.9" stroke-linejoin="round" stroke-linecap="round"/>
<polyline points="268.6,1879.4 285,1845 298,1811 302,1755 308,1721 310,1635 312,1510" fill="none" stroke="#000" stroke-width="3.9" stroke-linejoin="round" stroke-linecap="round"/>
<polyline points="268.6,1879.4 291,1835 298,1825 306,1805 312,1797 319,1769 322,1715 329,1669 332,1595 334.4,1510" fill="none" stroke="#000" stroke-width="3.9" stroke-linejoin="round" stroke-linecap="round"/>
<polyline points="268.6,1879.4 290,1795 294,1715 301,1635 309,1510" fill="none" stroke="#000" stroke-width="3.9" stroke-linejoin="round" stroke-linecap="round"/>
<polyline points="268.6,1879.4 291,1775 298,1675 310,1595 315,1510" fill="none" stroke="#000" stroke-width="3.9" stroke-linejoin="round" stroke-linecap="round"/>
<polyline points="268.6,1879.4 288,1815 295,1735 302,1655 310,1510" fill="none" stroke="#000" stroke-width="3.9" stroke-linejoin="round" stroke-linecap="round"/>
<text x="320.37" y="1854.3" font-size="26" textLength="89.95" lengthAdjust="spacingAndGlyphs">CR: 0/7</text>
<rect x="459" y="1509.6" width="22.4" height="370" fill="#DCDCDC"/>
<line x1="436" y1="1508.35" x2="436" y2="1880.85" stroke="#000" stroke-width="2.5"/>
<line x1="428.5" y1="1509.6" x2="436" y2="1509.6" stroke="#000" stroke-width="2.5"/>
<line x1="428.5" y1="1694.6" x2="436" y2="1694.6" stroke="#000" stroke-width="2.5"/>
<line x1="428.5" y1="1879.6" x2="436" y2="1879.6" stroke="#000" stroke-width="2.5"/>
<line x1="434.75" y1="1879.6" x2="560.65" y2="1879.6" stroke="#000" stroke-width="2.5"/>
<line x1="436" y1="1879.6" x2="436" y2="1887.1" stroke="#000" stroke-width="2.5"/>
<text x="427.32" y="1919" font-size="31">0</text>
<line x1="477.13" y1="1879.6" x2="477.13" y2="1887.1" stroke="#000" stroke-width="2.5"/>
<text x="459.62" y="1919" font-size="31">20</text>
<line x1="518.27" y1="1879.6" x2="518.27" y2="1887.1" stroke="#000" stroke-width="2.5"/>
<text x="501.22" y="1919" font-size="31">40</text>
<line x1="559.4" y1="1879.6" x2="559.4" y2="1887.1" stroke="#000" stroke-width="2.5"/>
<text x="541.88" y="1919" font-size="31">60</text>
<polygon points="436,1881 451,1861 456,1811 460,1755 463,1695 466,1655 468,1605 471,1511 483.4,1511 480,1635 477,1695 473,1771 466,1831 454,1880" fill="#2F65A1"/>
<polyline points="436,1881 451,1861 456,1811 460,1755 463,1695 466,1655 468,1605 471,1511 483.4,1511 480,1635 477,1695 473,1771 466,1831 454,1880 436,1881" fill="none" stroke="#2F65A1" stroke-width="1.6" stroke-linejoin="round" stroke-linecap="round"/>
<text x="494.69" y="1854.3" font-size="26" textLength="88.61" lengthAdjust="spacingAndGlyphs">CR: 0/8</text>
<line x1="652.6" y1="1509.6" x2="652.6" y2="1879.6" stroke="#000" stroke-width="2.2" stroke-dasharray="6.5,3.5"/>
<line x1="657" y1="1509.6" x2="657" y2="1879.6" stroke="#000" stroke-width="2.2" stroke-dasharray="6.5,3.5"/>
<line x1="661.2" y1="1509.6" x2="661.2" y2="1879.6" stroke="#000" stroke-width="2.2" stroke-dasharray="6.5,3.5"/>
<line x1="623.6" y1="1508.35" x2="623.6" y2="1880.85" stroke="#000" stroke-width="2.5"/>
<line x1="616.1" y1="1509.6" x2="623.6" y2="1509.6" stroke="#000" stroke-width="2.5"/>
<line x1="616.1" y1="1694.6" x2="623.6" y2="1694.6" stroke="#000" stroke-width="2.5"/>
<line x1="616.1" y1="1879.6" x2="623.6" y2="1879.6" stroke="#000" stroke-width="2.5"/>
<line x1="622.35" y1="1879.6" x2="748.65" y2="1879.6" stroke="#000" stroke-width="2.5"/>
<line x1="623.6" y1="1879.6" x2="623.6" y2="1887.1" stroke="#000" stroke-width="2.5"/>
<text x="614.92" y="1919" font-size="31">0</text>
<line x1="664.87" y1="1879.6" x2="664.87" y2="1887.1" stroke="#000" stroke-width="2.5"/>
<text x="647.35" y="1919" font-size="31">20</text>
<line x1="706.13" y1="1879.6" x2="706.13" y2="1887.1" stroke="#000" stroke-width="2.5"/>
<text x="689.08" y="1919" font-size="31">40</text>
<line x1="747.4" y1="1879.6" x2="747.4" y2="1887.1" stroke="#000" stroke-width="2.5"/>
<text x="729.88" y="1919" font-size="31">60</text>
<polyline points="623.6,1879.4 642,1873 650,1839 662,1795 668,1785 674,1771 677,1745 685,1731 688,1655 692,1555 693.6,1510" fill="none" stroke="#67A033" stroke-width="3.9" stroke-linejoin="round" stroke-linecap="round"/>
<polyline points="623.6,1879.4 640,1850 652,1780 658,1740 663,1709 668,1725 674,1701 675,1653 680,1605 685,1545 684.4,1510" fill="none" stroke="#67A033" stroke-width="3.9" stroke-linejoin="round" stroke-linecap="round"/>
<polyline points="623.6,1879.4 642,1845 652,1760 660,1675 668,1671 674,1651 676,1595 680,1510" fill="none" stroke="#67A033" stroke-width="3.9" stroke-linejoin="round" stroke-linecap="round"/>
<polyline points="623.6,1879.4 641,1845 653,1720 660,1595 668,1585 670,1510" fill="none" stroke="#67A033" stroke-width="3.9" stroke-linejoin="round" stroke-linecap="round"/>
<polyline points="623.6,1879.4 640,1855 649,1735 654,1635 657,1510" fill="none" stroke="#67A033" stroke-width="3.9" stroke-linejoin="round" stroke-linecap="round"/>
<polyline points="623.6,1879.4 638,1845 648,1755 653,1615 656,1510" fill="none" stroke="#67A033" stroke-width="3.9" stroke-linejoin="round" stroke-linecap="round"/>
<polyline points="623.6,1879.4 641,1835 651,1715 658,1595 662.4,1510" fill="none" stroke="#67A033" stroke-width="3.9" stroke-linejoin="round" stroke-linecap="round"/>
<polyline points="623.6,1879.4 642,1825 653,1695 659,1655 663,1615 667,1560 670,1510" fill="none" stroke="#67A033" stroke-width="3.9" stroke-linejoin="round" stroke-linecap="round"/>
<text x="675.48" y="1854.3" font-size="26" textLength="89.54" lengthAdjust="spacingAndGlyphs">CR: 0/8</text>
<rect x="863.4" y="1509.6" width="45.2" height="370" fill="#DCDCDC"/>
<line x1="875.4" y1="1509.6" x2="875.4" y2="1879.6" stroke="#000" stroke-width="2.2" stroke-dasharray="6.5,3.5"/>
<line x1="884" y1="1509.6" x2="884" y2="1879.6" stroke="#000" stroke-width="2.2" stroke-dasharray="6.5,3.5"/>
<line x1="892.4" y1="1509.6" x2="892.4" y2="1879.6" stroke="#000" stroke-width="2.2" stroke-dasharray="6.5,3.5"/>
<line x1="818" y1="1508.35" x2="818" y2="1880.85" stroke="#000" stroke-width="2.5"/>
<line x1="810.5" y1="1509.6" x2="818" y2="1509.6" stroke="#000" stroke-width="2.5"/>
<line x1="810.5" y1="1694.6" x2="818" y2="1694.6" stroke="#000" stroke-width="2.5"/>
<line x1="810.5" y1="1879.6" x2="818" y2="1879.6" stroke="#000" stroke-width="2.5"/>
<line x1="816.75" y1="1879.6" x2="1065.25" y2="1879.6" stroke="#000" stroke-width="2.5"/>
<line x1="818" y1="1879.6" x2="818" y2="1887.1" stroke="#000" stroke-width="2.5"/>
<text x="809.32" y="1919" font-size="31">0</text>
<line x1="900" y1="1879.6" x2="900" y2="1887.1" stroke="#000" stroke-width="2.5"/>
<text x="882.49" y="1919" font-size="31">20</text>
<line x1="982" y1="1879.6" x2="982" y2="1887.1" stroke="#000" stroke-width="2.5"/>
<text x="964.95" y="1919" font-size="31">40</text>
<line x1="1064" y1="1879.6" x2="1064" y2="1887.1" stroke="#000" stroke-width="2.5"/>
<text x="1046.49" y="1919" font-size="31">60</text>
<polyline points="818,1880 849,1865 863,1819 871,1775 879,1675 885,1575 891,1510" fill="none" stroke="#A3262A" stroke-width="3.9" stroke-linejoin="round" stroke-linecap="round"/>
<polyline points="818,1880 853,1861 865,1825 876,1765 887,1695 897,1625 905,1575 914,1510" fill="none" stroke="#A3262A" stroke-width="3.9" stroke-linejoin="round" stroke-linecap="round"/>
<polyline points="818,1880 851,1869 863,1823 875,1755 883,1655 887,1567 896,1613 904,1599 909,1655 914,1687 925,1693 953,1729 961,1743 978,1751 990,1779 1006,1631 1013,1510" fill="none" stroke="#A3262A" stroke-width="3.9" stroke-linejoin="round" stroke-linecap="round"/>
<polyline points="818,1880 850,1871 865,1815 879,1755 889,1725 896,1631 904,1631 913,1715 919,1731 925,1731 937,1785 945,1807 954,1821 963,1855 977,1879" fill="none" stroke="#A3262A" stroke-width="3.9" stroke-linejoin="round" stroke-linecap="round"/>
<polyline points="818,1880 852,1869 867,1815 881,1755 896,1701 911,1725 919,1745 928,1771 937,1803 945,1815 953,1839 961,1879" fill="none" stroke="#A3262A" stroke-width="3.9" stroke-linejoin="round" stroke-linecap="round"/>
<polyline points="818,1880 852,1875 869,1825 883,1775 896,1723 904,1727 917,1745 923,1751 929,1775 935,1795 945,1815 953,1835 965,1859 977,1879 990,1879 1007,1829 1021,1765 1037,1697 1053,1510" fill="none" stroke="#A3262A" stroke-width="3.9" stroke-linejoin="round" stroke-linecap="round"/>
<polyline points="818,1880 853,1879 863,1855 875,1807 885,1795 896,1775 903,1755 913,1731 917,1727 925,1795 953,1879" fill="none" stroke="#A3262A" stroke-width="3.9" stroke-linejoin="round" stroke-linecap="round"/>
<polyline points="953,1879 1065,1879" fill="none" stroke="#A3262A" stroke-width="3.9" stroke-linejoin="round" stroke-linecap="round"/>
<text x="1025.67" y="1854.3" font-size="26" textLength="90.16" lengthAdjust="spacingAndGlyphs">CR: 3/7</text>
<text x="1376.55" y="317.2" font-size="60" textLength="34.05" lengthAdjust="spacingAndGlyphs" font-weight="bold">c</text>
<text x="1501.98" y="347.7" font-size="38.5" textLength="239.45" lengthAdjust="spacingAndGlyphs">EMT6 survival</text>
<line x1="1481.2" y1="374.2" x2="1481.2" y2="748.3" stroke="#000" stroke-width="2.6"/>
<line x1="1476.4" y1="375.5" x2="1481.2" y2="375.5" stroke="#000" stroke-width="2.6"/>
<line x1="1476.4" y1="561.25" x2="1481.2" y2="561.25" stroke="#000" stroke-width="2.6"/>
<line x1="1476.4" y1="747" x2="1481.2" y2="747" stroke="#000" stroke-width="2.6"/>
<line x1="1479.9" y1="747" x2="1506.3" y2="747" stroke="#000" stroke-width="2.6"/>
<line x1="1505" y1="739.8" x2="1505" y2="754.4" stroke="#000" stroke-width="2.6"/>
<line x1="1481.2" y1="747" x2="1481.2" y2="751.8" stroke="#000" stroke-width="2.6"/>
<line x1="1524.7" y1="747" x2="1775.3" y2="747" stroke="#000" stroke-width="2.6"/>
<line x1="1526" y1="739.8" x2="1526" y2="754.4" stroke="#000" stroke-width="2.6"/>
<line x1="1526" y1="747" x2="1526" y2="751.8" stroke="#000" stroke-width="2.6"/>
<line x1="1588" y1="747" x2="1588" y2="751.8" stroke="#000" stroke-width="2.6"/>
<line x1="1650" y1="747" x2="1650" y2="751.8" stroke="#000" stroke-width="2.6"/>
<line x1="1712" y1="747" x2="1712" y2="751.8" stroke="#000" stroke-width="2.6"/>
<line x1="1774" y1="747" x2="1774" y2="751.8" stroke="#000" stroke-width="2.6"/>
<text x="1472.52" y="783.5" font-size="31">0</text>
<text x="1508.49" y="783.5" font-size="31">20</text>
<text x="1570.64" y="783.5" font-size="31">30</text>
<text x="1632.95" y="783.5" font-size="31">40</text>
<text x="1694.64" y="783.5" font-size="31">50</text>
<text x="1756.49" y="783.5" font-size="31">60</text>
<text x="1420.47" y="387.5" font-size="31">100</text>
<text x="1437.52" y="573.25" font-size="31">50</text>
<text x="1454.88" y="759" font-size="31">0</text>
<text x="0" y="0" font-size="39" text-anchor="middle" transform="translate(1422.5,563.5) rotate(-90)" textLength="178" lengthAdjust="spacingAndGlyphs">% Survival</text>
<line x1="1481.2" y1="375.5" x2="1507" y2="375.5" stroke="#000" stroke-width="3.6"/>
<polyline points="1582,375.5 1582,429.6 1606.4,429.6 1606.4,535 1626,535 1626,587.9 1775,587.9" fill="none" stroke="#FF88DC" stroke-width="3.6" stroke-linejoin="miter" stroke-linecap="butt"/>
<polyline points="1525,375.5 1544.6,375.5 1544.6,429.6 1563,429.6 1563,482.5 1582,482.5 1582,587.9 1606.4,587.9 1606.4,641.4" fill="none" stroke="#8C1D8E" stroke-width="3.6" stroke-linejoin="miter" stroke-linecap="butt"/>
<polyline points="1582,641.4 1606.4,641.4 1606.4,694 1736,694 1736,747" fill="none" stroke="#67A033" stroke-width="3.6" stroke-linejoin="miter" stroke-linecap="butt"/>
<polyline points="1563,375.5 1582,375.5 1582,535 1625,535 1625,641.4 1649,641.4 1649,694 1775,694" fill="none" stroke="#2F65A1" stroke-width="3.6" stroke-linejoin="miter" stroke-linecap="butt"/>
<polyline points="1525,375.5 1563,375.5 1563,500 1582,500 1582,685 1606.4,685 1606.4,747" fill="none" stroke="#000" stroke-width="3.6" stroke-linejoin="miter" stroke-linecap="butt"/>
<polyline points="1582,375.5 1775,375.5" fill="none" stroke="#A3262A" stroke-width="3.6" stroke-linejoin="miter" stroke-linecap="butt"/>
<line x1="1624.2" y1="447" x2="1624.2" y2="530.7" stroke="#808080" stroke-width="3.4"/>
<line x1="1634" y1="447" x2="1634" y2="472.5" stroke="#0000FF" stroke-width="3.4"/>
<line x1="1634" y1="477.6" x2="1634" y2="532.4" stroke="#808080" stroke-width="3.4"/>
<line x1="1644.8" y1="421.9" x2="1644.8" y2="505.5" stroke="#808080" stroke-width="3.4"/>
<line x1="1656" y1="393" x2="1656" y2="530.3" stroke="#FF0000" stroke-width="3.4"/>
<line x1="1666.8" y1="393" x2="1666.8" y2="474.4" stroke="#0000FF" stroke-width="3.4"/>
<line x1="1677.8" y1="393" x2="1677.8" y2="418.3" stroke="#808080" stroke-width="3.4"/>
<line x1="1677.8" y1="423.6" x2="1677.8" y2="475" stroke="#FF0000" stroke-width="3.4"/>
<line x1="1677.8" y1="478.2" x2="1677.8" y2="505" stroke="#0000FF" stroke-width="3.4"/>
<line x1="1677.8" y1="510.4" x2="1677.8" y2="531.2" stroke="#808080" stroke-width="3.4"/>
<text x="1690" y="403.6" font-size="22" textLength="44.9" lengthAdjust="spacingAndGlyphs">PBS</text>
<text x="1690" y="429.4" font-size="22" textLength="44.88" lengthAdjust="spacingAndGlyphs" fill="#2F65A1">ENT</text>
<text x="1690" y="455" font-size="22" textLength="124.69" lengthAdjust="spacingAndGlyphs" fill="#67A033">NHS-rmIL12</text>
<text x="1689.99" y="482.4" font-size="22.6" fill="#A3262A">ENT+NHS-rmIL12</text>
<text x="1690.23" y="508" font-size="22" textLength="69.83" lengthAdjust="spacingAndGlyphs" fill="#8C1D8E">rmIL12</text>
<text x="1690" y="537.7" font-size="22" textLength="127.82" lengthAdjust="spacingAndGlyphs" fill="#FF88DC">ENT+rmIL12</text>
<text x="1879.42" y="375.6" font-size="22.64">mOS(d)</text>
<text x="1907.74" y="401.5" font-size="21">29</text>
<text x="1907.85" y="427.8" font-size="21">36</text>
<text x="1907.74" y="454" font-size="21">29</text>
<text x="1904.17" y="480.7" font-size="21">n/a</text>
<text x="1907.74" y="510" font-size="21">29</text>
<text x="1907.85" y="536" font-size="21">36</text>
<text x="1374.11" y="879.2" font-size="60" textLength="36.03" lengthAdjust="spacingAndGlyphs" font-weight="bold">e</text>
<text x="1501.98" y="906.7" font-size="38.5" textLength="239.47" lengthAdjust="spacingAndGlyphs">MC38 survival</text>
<line x1="1482" y1="944.7" x2="1482" y2="1312.7" stroke="#000" stroke-width="2.6"/>
<line x1="1477.2" y1="946" x2="1482" y2="946" stroke="#000" stroke-width="2.6"/>
<line x1="1477.2" y1="1128.7" x2="1482" y2="1128.7" stroke="#000" stroke-width="2.6"/>
<line x1="1477.2" y1="1311.4" x2="1482" y2="1311.4" stroke="#000" stroke-width="2.6"/>
<line x1="1480.7" y1="1311.4" x2="1505.3" y2="1311.4" stroke="#000" stroke-width="2.6"/>
<line x1="1504" y1="1304.2" x2="1504" y2="1318.8" stroke="#000" stroke-width="2.6"/>
<line x1="1482" y1="1311.4" x2="1482" y2="1316.2" stroke="#000" stroke-width="2.6"/>
<line x1="1524.5" y1="1311.4" x2="1770.3" y2="1311.4" stroke="#000" stroke-width="2.6"/>
<line x1="1525.8" y1="1304.2" x2="1525.8" y2="1318.8" stroke="#000" stroke-width="2.6"/>
<line x1="1525.8" y1="1311.4" x2="1525.8" y2="1316.2" stroke="#000" stroke-width="2.6"/>
<line x1="1574" y1="1311.4" x2="1574" y2="1316.2" stroke="#000" stroke-width="2.6"/>
<line x1="1622.8" y1="1311.4" x2="1622.8" y2="1316.2" stroke="#000" stroke-width="2.6"/>
<line x1="1671.6" y1="1311.4" x2="1671.6" y2="1316.2" stroke="#000" stroke-width="2.6"/>
<line x1="1720" y1="1311.4" x2="1720" y2="1316.2" stroke="#000" stroke-width="2.6"/>
<line x1="1769" y1="1311.4" x2="1769" y2="1316.2" stroke="#000" stroke-width="2.6"/>
<text x="1473.32" y="1355.5" font-size="31">0</text>
<text x="1508.29" y="1355.5" font-size="31">20</text>
<text x="1556.64" y="1355.5" font-size="31">30</text>
<text x="1605.75" y="1355.5" font-size="31">40</text>
<text x="1654.24" y="1355.5" font-size="31">50</text>
<text x="1702.49" y="1355.5" font-size="31">60</text>
<text x="1751.49" y="1355.5" font-size="31">70</text>
<text x="1419.07" y="958" font-size="31">100</text>
<text x="1436.12" y="1140.7" font-size="31">50</text>
<text x="1453.48" y="1323.4" font-size="31">0</text>
<text x="0" y="0" font-size="39" text-anchor="middle" transform="translate(1422.5,1126.6) rotate(-90)" textLength="178" lengthAdjust="spacingAndGlyphs">% Survival</text>
<line x1="1482" y1="946" x2="1507" y2="946" stroke="#000" stroke-width="3.6"/>
<polyline points="1560,974.6 1578.5,974.6 1578.5,1051 1593.8,1051 1593.8,1181.8 1617.8,1181.8 1617.8,1259.6 1633,1259.6 1633,1311.4" fill="none" stroke="#67A033" stroke-width="3.6" stroke-linejoin="miter" stroke-linecap="butt"/>
<polyline points="1544.6,946 1560,946 1560,1115 1578.5,1115 1578.5,1283.5 1593.8,1283.5 1593.8,1311.4" fill="none" stroke="#2F65A1" stroke-width="3.6" stroke-linejoin="miter" stroke-linecap="butt"/>
<polyline points="1525,946 1544.6,946 1544.6,974.6 1560,974.6 1560,1255.6 1578.5,1255.6 1578.5,1311.4" fill="none" stroke="#000" stroke-width="3.6" stroke-linejoin="miter" stroke-linecap="butt"/>
<polyline points="1560,946 1618.6,946 1618.6,1038 1632.8,1038 1632.8,1068.6 1666.7,1068.6 1666.7,1099 1691.7,1099 1691.7,1130 1715,1130 1715,1160 1770,1160" fill="none" stroke="#A3262A" stroke-width="3.6" stroke-linejoin="miter" stroke-linecap="butt"/>
<line x1="1651.7" y1="949.6" x2="1651.7" y2="1027" stroke="#000" stroke-width="3.4"/>
<line x1="1664" y1="949.6" x2="1664" y2="1003" stroke="#000" stroke-width="3.4"/>
<line x1="1675.7" y1="949.6" x2="1675.7" y2="974.6" stroke="#808080" stroke-width="3.4"/>
<line x1="1675.7" y1="980" x2="1675.7" y2="1001" stroke="#0000FF" stroke-width="3.4"/>
<line x1="1675.7" y1="1005.7" x2="1675.7" y2="1027" stroke="#808080" stroke-width="3.4"/>
<text x="1687.2" y="960.3" font-size="22" textLength="44.9" lengthAdjust="spacingAndGlyphs">PBS</text>
<text x="1687.2" y="986" font-size="22" textLength="44.88" lengthAdjust="spacingAndGlyphs" fill="#2F65A1">ENT</text>
<text x="1687.2" y="1012.8" font-size="22" textLength="124.69" lengthAdjust="spacingAndGlyphs" fill="#67A033">NHS-rmIL12</text>
<text x="1687.18" y="1038.9" font-size="22.72" fill="#A3262A">ENT+NHS-rmIL12</text>
<text x="1881.26" y="932.5" font-size="22.02">mOS(d)</text>
<text x="1909.24" y="958.6" font-size="21">27</text>
<text x="1909.35" y="985" font-size="21">31</text>
<text x="1909.13" y="1011" font-size="21">34</text>
<text x="1900.53" y="1037" font-size="21">56.5</text>
<text x="1375.44" y="1435" font-size="60" textLength="39.09" lengthAdjust="spacingAndGlyphs" font-weight="bold">g</text>
<text x="1506.81" y="1475.6" font-size="38.5" textLength="230.54" lengthAdjust="spacingAndGlyphs">CT26 survival</text>
<line x1="1482" y1="1510" x2="1482" y2="1880.9" stroke="#000" stroke-width="2.6"/>
<line x1="1477.2" y1="1511.3" x2="1482" y2="1511.3" stroke="#000" stroke-width="2.6"/>
<line x1="1477.2" y1="1695.45" x2="1482" y2="1695.45" stroke="#000" stroke-width="2.6"/>
<line x1="1477.2" y1="1879.6" x2="1482" y2="1879.6" stroke="#000" stroke-width="2.6"/>
<line x1="1480.7" y1="1879.6" x2="1505.3" y2="1879.6" stroke="#000" stroke-width="2.6"/>
<line x1="1504" y1="1872.4" x2="1504" y2="1887" stroke="#000" stroke-width="2.6"/>
<line x1="1482" y1="1879.6" x2="1482" y2="1884.4" stroke="#000" stroke-width="2.6"/>
<line x1="1524.1" y1="1879.6" x2="1772.7" y2="1879.6" stroke="#000" stroke-width="2.6"/>
<line x1="1525.4" y1="1872.4" x2="1525.4" y2="1887" stroke="#000" stroke-width="2.6"/>
<line x1="1533.6" y1="1879.6" x2="1533.6" y2="1884.4" stroke="#000" stroke-width="2.6"/>
<line x1="1581" y1="1879.6" x2="1581" y2="1884.4" stroke="#000" stroke-width="2.6"/>
<line x1="1629" y1="1879.6" x2="1629" y2="1884.4" stroke="#000" stroke-width="2.6"/>
<line x1="1676" y1="1879.6" x2="1676" y2="1884.4" stroke="#000" stroke-width="2.6"/>
<line x1="1723.7" y1="1879.6" x2="1723.7" y2="1884.4" stroke="#000" stroke-width="2.6"/>
<line x1="1771.4" y1="1879.6" x2="1771.4" y2="1884.4" stroke="#000" stroke-width="2.6"/>
<text x="1473.32" y="1918" font-size="31">0</text>
<text x="1516.09" y="1918" font-size="31">20</text>
<text x="1563.64" y="1918" font-size="31">30</text>
<text x="1611.95" y="1918" font-size="31">40</text>
<text x="1658.64" y="1918" font-size="31">50</text>
<text x="1706.19" y="1918" font-size="31">60</text>
<text x="1753.89" y="1918" font-size="31">70</text>
<text x="1420.47" y="1523.3" font-size="31">100</text>
<text x="1437.52" y="1707.45" font-size="31">50</text>
<text x="1454.88" y="1891.6" font-size="31">0</text>
<text x="0" y="0" font-size="39" text-anchor="middle" transform="translate(1422.5,1700) rotate(-90)" textLength="178" lengthAdjust="spacingAndGlyphs">% Survival</text>
<line x1="1482" y1="1511.3" x2="1505" y2="1511.3" stroke="#000" stroke-width="3.6"/>
<polyline points="1532,1556 1553.5,1556 1553.5,1602.6 1563.5,1602.6 1563.5,1648.6 1577,1648.6 1577,1695 1596,1695 1596,1833.5 1624.6,1833.5 1624.6,1879.6" fill="none" stroke="#67A033" stroke-width="3.6" stroke-linejoin="miter" stroke-linecap="butt"/>
<polyline points="1525,1511.3 1538.5,1511.3 1538.5,1556 1553.5,1556 1553.5,1787 1563,1787 1563,1879.6" fill="none" stroke="#2F65A1" stroke-width="3.6" stroke-linejoin="miter" stroke-linecap="butt"/>
<polyline points="1525,1511.3 1529,1511.3 1529,1564 1538,1564 1538,1616 1553.5,1616 1553.5,1775 1576.4,1775 1576.4,1826.7 1606,1826.7 1606,1879.6" fill="none" stroke="#000" stroke-width="3.6" stroke-linejoin="miter" stroke-linecap="butt"/>
<polyline points="1539,1511.3 1563.5,1511.3 1563.5,1563.6 1577.4,1563.6 1577.4,1616 1691.7,1616 1691.7,1669 1733.8,1669 1733.8,1721.4 1748.8,1721.4" fill="none" stroke="#A3262A" stroke-width="3.6" stroke-linejoin="miter" stroke-linecap="butt"/>
<line x1="1647.7" y1="1516" x2="1647.7" y2="1595" stroke="#FF0000" stroke-width="3.4"/>
<line x1="1660" y1="1546" x2="1660" y2="1595" stroke="#0000FF" stroke-width="3.4"/>
<line x1="1671.6" y1="1546" x2="1671.6" y2="1567" stroke="#808080" stroke-width="3.4"/>
<line x1="1671.6" y1="1574" x2="1671.6" y2="1595" stroke="#808080" stroke-width="3.4"/>
<text x="1683.8" y="1525.7" font-size="22" textLength="44.9" lengthAdjust="spacingAndGlyphs">PBS</text>
<text x="1683.8" y="1551.7" font-size="22" textLength="44.88" lengthAdjust="spacingAndGlyphs" fill="#2F65A1">ENT</text>
<text x="1683.8" y="1577.8" font-size="22" textLength="124.69" lengthAdjust="spacingAndGlyphs" fill="#67A033">NHS-rmIL12</text>
<text x="1683.79" y="1604.6" font-size="22.65" fill="#A3262A">ENT+NHS-rmIL12</text>
<text x="1880.44" y="1498" font-size="22.26">mOS(d)</text>
<text x="1907.53" y="1523.7" font-size="21">24</text>
<text x="1907.53" y="1550" font-size="21">24</text>
<text x="1907.85" y="1576.7" font-size="21">31</text>
<text x="1907.74" y="1603.5" font-size="21">62</text>
<text x="125.12" y="2062" font-size="60" textLength="39.06" lengthAdjust="spacingAndGlyphs" font-weight="bold">h</text>
<text x="222.23" y="2159" font-size="34.57">EMT6</text>
<text x="212.34" y="2200.4" font-size="33.68">implant</text>
<rect x="264.3" y="2218" width="8.1" height="54" fill="#000"/>
<line x1="270" y1="2246" x2="640" y2="2246" stroke="#000" stroke-width="3"/>
<rect x="347.8" y="2232.7" width="232.7" height="26.9" fill="#4472C4"/>
<line x1="627.9" y1="2269.3" x2="653.7" y2="2220.8" stroke="#000" stroke-width="6"/>
<line x1="686" y1="2269.3" x2="711.4" y2="2220.8" stroke="#000" stroke-width="6"/>
<line x1="703" y1="2246" x2="776" y2="2246" stroke="#000" stroke-width="3"/>
<text x="606.38" y="2194" font-size="33.89">≥ 1 month</text>
<line x1="411.3" y1="2191" x2="411.3" y2="2210.6" stroke="#6EAC46" stroke-width="4.2"/>
<polygon points="400,2209.6 422.6,2209.6 411.3,2231.6" fill="#6EAC46"/>
<line x1="459.8" y1="2191" x2="459.8" y2="2210.6" stroke="#6EAC46" stroke-width="4.2"/>
<polygon points="448.5,2209.6 471.1,2209.6 459.8,2231.6" fill="#6EAC46"/>
<line x1="513.7" y1="2191" x2="513.7" y2="2210.6" stroke="#6EAC46" stroke-width="4.2"/>
<polygon points="502.4,2209.6 525,2209.6 513.7,2231.6" fill="#6EAC46"/>
<text x="343.48" y="2291.5" font-size="34">7</text>
<text x="389.98" y="2291.5" font-size="34">15</text>
<text x="439.75" y="2291.5" font-size="34">17</text>
<text x="492.45" y="2291.5" font-size="34">19</text>
<text x="560.36" y="2291.5" font-size="34">23</text>
<text x="216.83" y="2306" font-size="34.68">Day 0</text>
<text x="687.86" y="2091.6" font-size="38.03">EMT6 (r) + TS/A (l)</text>
<text x="750.16" y="2134.7" font-size="37.66">rechallenge</text>
<text x="0" y="0" font-size="34" transform="translate(809,2280) rotate(-90)" textLength="73.4" lengthAdjust="spacingAndGlyphs">TS/A</text>
<text x="0" y="0" font-size="34" transform="translate(912.6,2285.2) rotate(-90)" textLength="85.7" lengthAdjust="spacingAndGlyphs">EMT6</text>
<path d="M849.5,2262 C849,2290 851,2320 858.5,2346" fill="none" stroke="#D9A3A0" stroke-width="2.4" stroke-linecap="round"/>
<path d="M822.5,2262 L833,2261 L833,2266 L823,2268 Z" fill="#E0A09C"/>
<path d="M867.5,2261 L879.8,2262 L879.8,2268 L868,2266 Z" fill="#E0A09C"/>
<path d="M816,2181 L812,2175 M816,2181 L810,2178 M816,2181 L814,2174" stroke="#E0A09C" stroke-width="1.6" fill="none"/>
<circle cx="816" cy="2180" r="3.3" fill="#E0A09C"/>
<path d="M883,2181 L887,2175 M883,2181 L889,2178 M883,2181 L885,2174" stroke="#E0A09C" stroke-width="1.6" fill="none"/>
<circle cx="883" cy="2180" r="3.3" fill="#E0A09C"/>
<ellipse cx="833.5" cy="2170" rx="4.5" ry="6" fill="#E0A09C"/>
<ellipse cx="866.5" cy="2170" rx="4.5" ry="6" fill="#E0A09C"/>
<path d="M817,2182 L832,2189 L840,2200 L832,2203 Z" fill="#E9E9E9" stroke="#B8B8B8" stroke-width="0.8"/>
<path d="M883,2182 L868,2189 L860,2200 L868,2203 Z" fill="#E9E9E9" stroke="#B8B8B8" stroke-width="0.8"/>
<path d="M850,2148.7 C846,2150 842,2160 838,2166 C835,2172 836,2180 838,2183 C832,2186 828,2192 830,2203 C831,2215 826,2228 823,2236 C821,2244 823,2252 826,2256 L831,2262 C840,2266 846,2266.5 850,2266.5 C854,2266.5 860,2266 869,2262 L874,2256 C877,2252 879,2244 877,2236 C874,2228 869,2215 870,2203 C872,2192 868,2186 862,2183 C864,2180 865,2172 862,2166 C858,2160 854,2150 850,2148.7 Z" fill="#E9E9E9" stroke="#B8B8B8" stroke-width="0.9"/>
<path d="M840,2182 Q850,2190 860,2182" fill="none" stroke="#CFCFCF" stroke-width="1"/>
<path d="M829,2240 Q850,2232 871,2240" fill="none" stroke="#D6D6D6" stroke-width="1"/>
<circle cx="850" cy="2149.5" r="1.3" fill="#E0A09C"/>
<line x1="926" y1="2246" x2="948" y2="2246" stroke="#000" stroke-width="3.5"/>
<polygon points="946,2235 967.6,2246 946,2257" fill="#000"/>
<rect x="187.8" y="2344.7" width="29.1" height="27" fill="#4472C4"/>
<text x="229.26" y="2370.6" font-size="34.28">ENT (6 mg/kg/day, po)</text>
<line x1="623.6" y1="2342" x2="623.6" y2="2361.4" stroke="#6EAC46" stroke-width="4.2"/>
<polygon points="612.3,2360.4 634.9,2360.4 623.6,2382.4" fill="#6EAC46"/>
<text x="641.29" y="2371.7" font-size="33.91">NHS-rmIL12 (2 <tspan font-style="italic">μ</tspan>g, sc)</text>
<text x="1117.67" y="2059" font-size="36.64">TS/A</text>
<text x="1300.87" y="2059" font-size="37.83">EMT6</text>
<line x1="1265.4" y1="2079.7" x2="1265.4" y2="2387.7" stroke="#000" stroke-width="2.6"/>
<line x1="1256.4" y1="2081" x2="1265.4" y2="2081" stroke="#000" stroke-width="2.6"/>
<text x="1196.71" y="2092.5" font-size="33">800</text>
<line x1="1256.4" y1="2157.4" x2="1265.4" y2="2157.4" stroke="#000" stroke-width="2.6"/>
<text x="1196.71" y="2168.9" font-size="33">600</text>
<line x1="1256.4" y1="2233.3" x2="1265.4" y2="2233.3" stroke="#000" stroke-width="2.6"/>
<text x="1196.71" y="2244.8" font-size="33">400</text>
<line x1="1256.4" y1="2310" x2="1265.4" y2="2310" stroke="#000" stroke-width="2.6"/>
<text x="1196.71" y="2321.5" font-size="33">200</text>
<line x1="1256.4" y1="2386.4" x2="1265.4" y2="2386.4" stroke="#000" stroke-width="2.6"/>
<line x1="1124.1" y1="2386.4" x2="1404.9" y2="2386.4" stroke="#000" stroke-width="2.6"/>
<line x1="1125.4" y1="2386.4" x2="1125.4" y2="2395.4" stroke="#000" stroke-width="2.6"/>
<text x="1107.25" y="2428.6" font-size="33">40</text>
<line x1="1195" y1="2386.4" x2="1195" y2="2395.4" stroke="#000" stroke-width="2.6"/>
<text x="1176.36" y="2428.6" font-size="33">20</text>
<line x1="1265.4" y1="2386.4" x2="1265.4" y2="2395.4" stroke="#000" stroke-width="2.6"/>
<text x="1256.16" y="2428.6" font-size="33">0</text>
<line x1="1334.2" y1="2386.4" x2="1334.2" y2="2395.4" stroke="#000" stroke-width="2.6"/>
<text x="1315.56" y="2428.6" font-size="33">20</text>
<line x1="1403.6" y1="2386.4" x2="1403.6" y2="2395.4" stroke="#000" stroke-width="2.6"/>
<text x="1385.45" y="2428.6" font-size="33">40</text>
<text x="1022.01" y="2468" font-size="38.4" textLength="477.59" lengthAdjust="spacingAndGlyphs">Days post-tumor rechallenge</text>
<text x="0" y="0" font-size="37" transform="translate(1083,2404.7) rotate(-90)" textLength="340.7" lengthAdjust="spacingAndGlyphs">Tumor volume (mm<tspan font-size="24" dy="-11.5">3</tspan><tspan dy="11.5">)</tspan></text>
<line x1="1156.9" y1="2181.3" x2="1156.9" y2="2250" stroke="#A8201A" stroke-width="2.6"/>
<line x1="1149.9" y1="2181.3" x2="1163.9" y2="2181.3" stroke="#A8201A" stroke-width="2.6"/>
<line x1="1149.9" y1="2250" x2="1163.9" y2="2250" stroke="#A8201A" stroke-width="2.6"/>
<line x1="1173.2" y1="2286.7" x2="1173.2" y2="2321.8" stroke="#A8201A" stroke-width="2.6"/>
<line x1="1166.2" y1="2286.7" x2="1180.2" y2="2286.7" stroke="#A8201A" stroke-width="2.6"/>
<line x1="1166.2" y1="2321.8" x2="1180.2" y2="2321.8" stroke="#A8201A" stroke-width="2.6"/>
<line x1="1174.6" y1="2258.6" x2="1174.6" y2="2312.5" stroke="#7A7A7A" stroke-width="2.6"/>
<line x1="1167.6" y1="2258.6" x2="1181.6" y2="2258.6" stroke="#7A7A7A" stroke-width="2.6"/>
<line x1="1167.6" y1="2312.5" x2="1181.6" y2="2312.5" stroke="#7A7A7A" stroke-width="2.6"/>
<line x1="1202" y1="2354" x2="1202" y2="2362" stroke="#7A7A7A" stroke-width="2.6"/>
<line x1="1195" y1="2354" x2="1209" y2="2354" stroke="#7A7A7A" stroke-width="2.6"/>
<line x1="1195" y1="2362" x2="1209" y2="2362" stroke="#7A7A7A" stroke-width="2.6"/>
<line x1="1327.2" y1="2300" x2="1327.2" y2="2326.6" stroke="#7A7A7A" stroke-width="2.6"/>
<line x1="1320.2" y1="2300" x2="1334.2" y2="2300" stroke="#7A7A7A" stroke-width="2.6"/>
<line x1="1320.2" y1="2326.6" x2="1334.2" y2="2326.6" stroke="#7A7A7A" stroke-width="2.6"/>
<line x1="1355.3" y1="2131.3" x2="1355.3" y2="2160.8" stroke="#7A7A7A" stroke-width="2.6"/>
<line x1="1348.3" y1="2131.3" x2="1362.3" y2="2131.3" stroke="#7A7A7A" stroke-width="2.6"/>
<line x1="1348.3" y1="2160.8" x2="1362.3" y2="2160.8" stroke="#7A7A7A" stroke-width="2.6"/>
<polyline points="1156.9,2215.8 1173.2,2305 1202,2370.4 1240,2381.7 1265.4,2386" fill="none" stroke="#A8201A" stroke-width="3.2" stroke-linejoin="round" stroke-linecap="round"/>
<polygon points="1156.9,2207.8 1163.9,2215.8 1156.9,2223.8 1149.9,2215.8" fill="#A8201A"/>
<polygon points="1173.2,2297 1180.2,2305 1173.2,2313 1166.2,2305" fill="#A8201A"/>
<polygon points="1202,2362.4 1209,2370.4 1202,2378.4 1195,2370.4" fill="#A8201A"/>
<polygon points="1240,2373.7 1247,2381.7 1240,2389.7 1233,2381.7" fill="#A8201A"/>
<polyline points="1174.6,2286 1202,2362 1240,2376.6 1265.4,2386" fill="none" stroke="#7A7A7A" stroke-width="3.2" stroke-linejoin="round" stroke-linecap="round"/>
<circle cx="1174.6" cy="2286" r="7.5" fill="#7A7A7A"/>
<circle cx="1202" cy="2362" r="7.5" fill="#7A7A7A"/>
<circle cx="1240" cy="2376.6" r="7.5" fill="#7A7A7A"/>
<polyline points="1265.4,2386 1289.2,2357 1327.2,2313.4 1355.3,2146" fill="none" stroke="#7A7A7A" stroke-width="3.2" stroke-linejoin="round" stroke-linecap="round"/>
<rect x="1258.4" y="2379" width="14" height="14" fill="#7A7A7A"/>
<rect x="1282.2" y="2350" width="14" height="14" fill="#7A7A7A"/>
<rect x="1320.2" y="2306.4" width="14" height="14" fill="#7A7A7A"/>
<rect x="1348.3" y="2139" width="14" height="14" fill="#7A7A7A"/>
<polygon points="1265.4,2377 1273.9,2391 1256.9,2391" fill="#A8201A"/>
<polygon points="1289.2,2377 1297.7,2391 1280.7,2391" fill="#A8201A"/>
<polygon points="1327.2,2377 1335.7,2391 1318.7,2391" fill="#A8201A"/>
<polygon points="1354.5,2377 1363,2391 1346,2391" fill="#A8201A"/>
<polygon points="1372.7,2377 1381.2,2391 1364.2,2391" fill="#A8201A"/>
<text x="1118.93" y="2168.6" font-size="34.35" fill="#A8201A">0/5</text>
<text x="1106.33" y="2302" font-size="34.35" fill="#7A7A7A">0/5</text>
<text x="1370.52" y="2152.6" font-size="34.43" fill="#7A7A7A">0/5</text>
<text x="1356.99" y="2364" font-size="34.19" fill="#A8201A">9/9</text>
<text x="1600.4" y="2191.7" font-size="22.52">Protective memory</text>
<text x="1640.85" y="2223.8" font-size="22.36">TS/A</text>
<text x="1701.97" y="2223.8" font-size="22.91">EMT6</text>
<text x="1432.65" y="2253" font-size="23.13" fill="#A9A9A9">Naive</text>
<text x="1640.37" y="2253" font-size="23.28">0/5</text>
<text x="1702.87" y="2253" font-size="23.28">0/5</text>
<text x="1432.68" y="2287" font-size="22.7" fill="#A3262A">ENT+NHS-rmIL12</text>
<text x="1640.36" y="2287" font-size="23.46">0/9</text>
<text x="1702.62" y="2287" font-size="23.64">9/9</text>
</svg></body></html>
